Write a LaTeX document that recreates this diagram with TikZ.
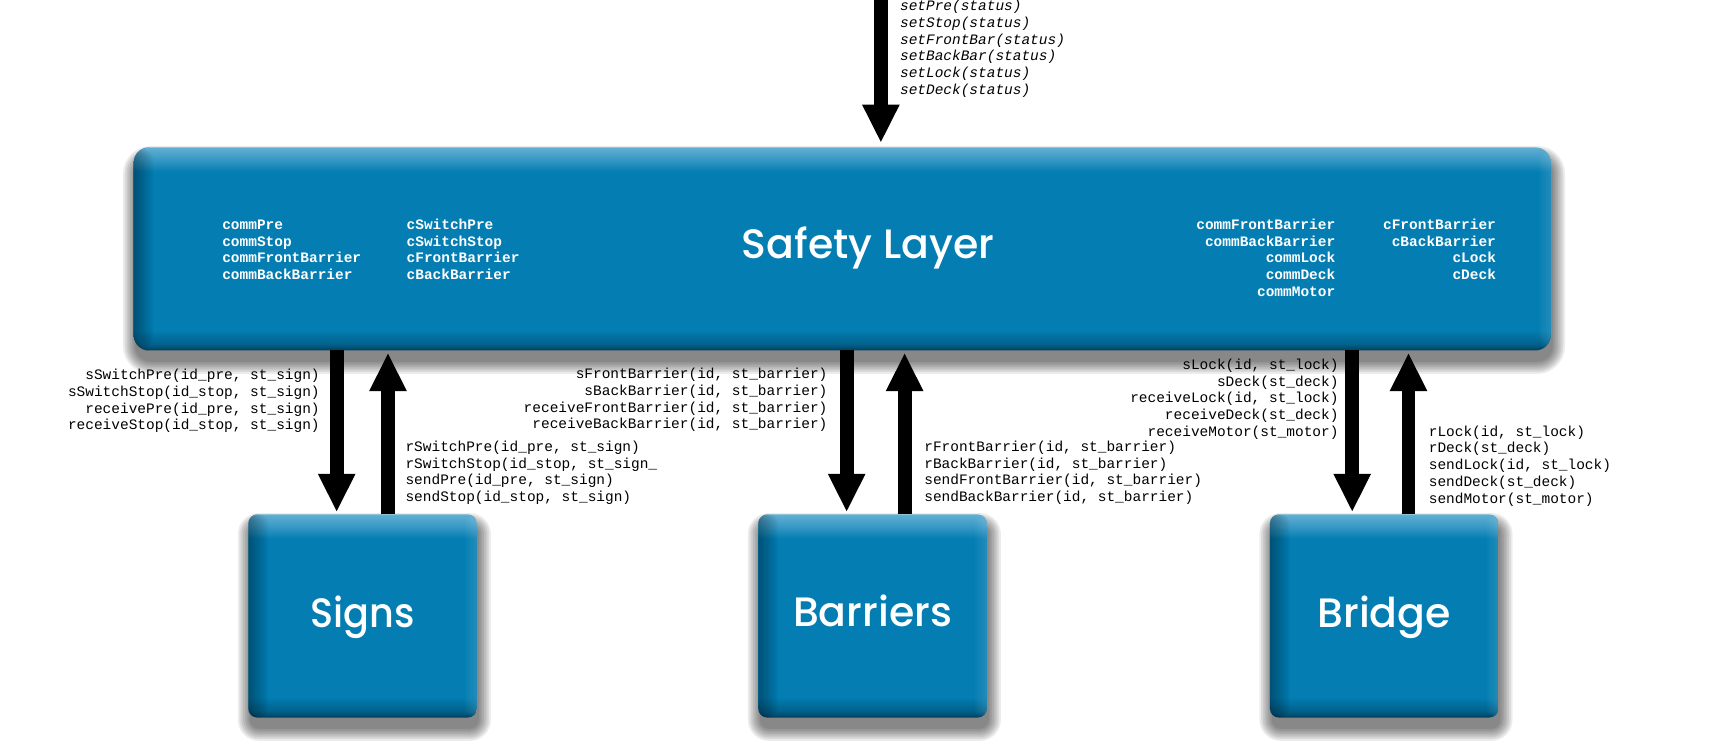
\documentclass[tikz,border=0pt]{standalone}
\usepackage{fontspec}
\usetikzlibrary{arrows.meta}
\newfontfamily\monof{Liberation Mono}
\newfontfamily\titlef{Poppins}[UprightFont={* Medium}]
\definecolor{bbase}{RGB}{3,125,178}
\definecolor{blight}{RGB}{98,175,210}
\definecolor{blight2}{RGB}{55,152,196}
\definecolor{bdark}{RGB}{0,62,92}
\definecolor{bdark2}{RGB}{1,96,138}
\pgfdeclareverticalshading{bevelv}{100bp}{color(0bp)=(bdark); color(25bp)=(bdark); color(26.5bp)=(bdark2); color(30bp)=(bbase); color(69bp)=(bbase); color(72bp)=(blight2); color(75bp)=(blight); color(100bp)=(blight)}
\pgfdeclarelayer{backl}
\pgfdeclarelayer{shadowl}
\pgfsetlayers{backl,shadowl,main}
\newcommand\boxshadow[2]{%
  \foreach \e in {0,1,...,7}{%
    \fill[black, fill opacity=0.075, rounded corners=#2+\e*0.8pt]
      ([xshift=-\e*0.8pt+0.8pt, yshift=-5pt+\e*0.8pt]#1.north west) rectangle
      ([xshift=\e*0.8pt+0.8pt, yshift=-5pt-\e*0.8pt]#1.south east);}}
\tikzset{
  boxstyle/.style={rectangle, inner sep=0pt, outer sep=0pt, shade, shading=bevelv,
    path picture={
      \foreach \i in {1,...,10}
        \fill[black, fill opacity=0.035]
          (path picture bounding box.south west) rectangle ([xshift=\i*0.9pt]path picture bounding box.north west);
      \foreach \i in {1,...,6}
        \fill[white, fill opacity=0.025]
          ([xshift=-\i*0.9pt]path picture bounding box.south east) rectangle (path picture bounding box.north east);
    }},
  bigbox/.style={boxstyle, rounded corners=7pt, minimum width=642pt, minimum height=92pt},
  smallbox/.style={boxstyle, rounded corners=4pt, minimum width=103.5pt, minimum height=92pt},
  bigarrow/.style={line width=6.3pt, -{Triangle[width=15.7pt,length=17.4pt]}},
  lbl/.style={font=\fontsize{6.55}{7.55}\selectfont\monof, inner sep=0pt, text=black},
  toplbl/.style={font=\fontsize{6.55}{7.55}\selectfont\monof\itshape, inner sep=0pt, text=black},
  inlbl/.style={font=\fontsize{6.55}{7.55}\selectfont\monof\bfseries, inner sep=0pt, text=white},
  ttl/.style={font=\fontsize{18.6}{20}\titlef, inner sep=0pt, anchor=base, text=white},
}
\begin{document}
\begin{tikzpicture}[x=0.5pt, y=-0.5pt]
\begin{pgfonlayer}{backl}
\fill[white] (0,0) rectangle (1560,676);
\end{pgfonlayer}
\useasboundingbox (0,0) rectangle (1560,676);

% boxes
\node[bigbox] (safety) at (763,225.5) {};
\node[smallbox] (signs) at (328.5,558) {};
\node[smallbox] (barriers) at (790.5,558) {};
\node[smallbox] (bridge) at (1254,558) {};

\begin{pgfonlayer}{shadowl}
\boxshadow{safety}{7pt}
\boxshadow{signs}{4pt}
\boxshadow{barriers}{4pt}
\boxshadow{bridge}{4pt}
\end{pgfonlayer}

% titles
\node[ttl] (safetyT) at (786.5,234) {Safety Layer};
\node[ttl, xscale=0.93] (signsT)  at (328.5,568.5) {Signs};
\node[ttl] (barT)    at (790.5,568) {Barriers};
\node[ttl] (briT)    at (1254,568.5) {Bridge};

% texts inside safety layer
\node[inlbl, anchor=north west, align=left] (inL1) at (201,196.8)
  {\strut commPre\\commStop\\commFrontBarrier\\commBackBarrier};
\node[inlbl, anchor=north west, align=left] (inL2) at (368,196.8)
  {\strut cSwitchPre\\cSwitchStop\\cFrontBarrier\\cBackBarrier};
\node[inlbl, anchor=north east, align=right] (inR1) at (1210,196.8)
  {\strut commFrontBarrier\\commBackBarrier\\commLock\\commDeck\\commMotor};
\node[inlbl, anchor=north east, align=right] (inR2) at (1355.6,196.8)
  {\strut cFrontBarrier\\cBackBarrier\\cLock\\cDeck};

% top input
\coordinate (topsrc) at (798,-4);
\draw[bigarrow, shorten >=2pt] (topsrc) -- (topsrc |- safety.north);
\node[toplbl, anchor=north west, align=left] (toptxt) at (815,-1.3)
  {\strut setPre(status)\\setStop(status)\\setFrontBar(status)\\setBackBar(status)\\setLock(status)\\setDeck(status)};

% arrow x positions
\coordinate (sd) at (305,0);
\coordinate (su) at (351.5,0);
\coordinate (bd) at (767,0);
\coordinate (bu) at (819.5,0);
\coordinate (rd) at (1225,0);
\coordinate (ru) at (1276,0);

\draw[bigarrow, shorten >=1pt] (sd |- safety.south) -- (sd |- signs.north);
\draw[bigarrow, shorten >=1pt] (su |- signs.north) -- (su |- safety.south);
\draw[bigarrow, shorten >=1pt] (bd |- safety.south) -- (bd |- barriers.north);
\draw[bigarrow, shorten >=1pt] (bu |- barriers.north) -- (bu |- safety.south);
\draw[bigarrow, shorten >=1pt] (rd |- safety.south) -- (rd |- bridge.north);
\draw[bigarrow, shorten >=1pt] (ru |- bridge.north) -- (ru |- safety.south);

% labels
\node[lbl, anchor=north east, align=right] (sigL) at (290,333)
  {\strut sSwitchPre(id\_pre, st\_sign)\\sSwitchStop(id\_stop, st\_sign)\\receivePre(id\_pre, st\_sign)\\receiveStop(id\_stop, st\_sign)};
\node[lbl, anchor=north west, align=left] (sigR) at (367,397.9)
  {\strut rSwitchPre(id\_pre, st\_sign)\\rSwitchStop(id\_stop, st\_sign\_\\sendPre(id\_pre, st\_sign)\\sendStop(id\_stop, st\_sign)};
\node[lbl, anchor=north east, align=right] (barL) at (750,332.1)
  {\strut sFrontBarrier(id, st\_barrier)\\sBackBarrier(id, st\_barrier)\\receiveFrontBarrier(id, st\_barrier)\\receiveBackBarrier(id, st\_barrier)};
\node[lbl, anchor=north west, align=left] (barR) at (837,397.9)
  {\strut rFrontBarrier(id, st\_barrier)\\rBackBarrier(id, st\_barrier)\\sendFrontBarrier(id, st\_barrier)\\sendBackBarrier(id, st\_barrier)};
\node[lbl, anchor=north east, align=right] (briL) at (1213,323.8)
  {\strut sLock(id, st\_lock)\\sDeck(st\_deck)\\receiveLock(id, st\_lock)\\receiveDeck(st\_deck)\\receiveMotor(st\_motor)};
\node[lbl, anchor=north west, align=left] (briR) at (1294,384.3)
  {\strut rLock(id, st\_lock)\\rDeck(st\_deck)\\sendLock(id, st\_lock)\\sendDeck(st\_deck)\\sendMotor(st\_motor)};
\end{tikzpicture}
\end{document}
